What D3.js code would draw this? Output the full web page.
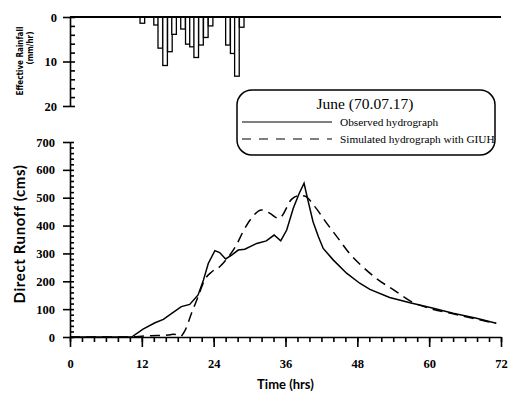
<!DOCTYPE html>
<meta charset="utf-8">
<style>
body { margin: 0; background: #fff; }
svg { display: block; }
.tk text { font-family: "Liberation Serif", serif; font-weight: bold; font-size: 12.5px; fill: #000; }
.tk line, .tk path { stroke: #000; stroke-width: 1.6; }
</style>
<body>
<script src="https://cdnjs.cloudflare.com/ajax/libs/d3/7.8.5/d3.min.js"></script>
<script>
// rainfall (hyetograph), hours and mm/hr
var rainT = [11.7, 14.0, 14.7, 15.5, 16.3, 17.0, 18.5, 19.3, 20.0, 20.7, 21.5, 22.3, 23.1, 26.0, 26.8, 27.5, 28.3];
var rainV = [1.4, 1.8, 7.0, 10.9, 7.8, 3.9, 2.7, 6.1, 6.7, 9.1, 6.3, 4.6, 2.0, 6.3, 8.2, 13.3, 2.3];
var rainW = 0.77;

// observed hydrograph
var obsT = [0, 10.3, 12.2, 14.2, 15.6, 17.0, 18.6, 20.0, 21.4, 22.3, 23.1, 24.2, 25.0, 26.0, 27.0, 28.1, 29.2, 31.2, 32.8, 34.1, 35.2, 36.2, 37.3, 38.3, 39.1, 39.8, 40.6, 41.5, 42.3, 44.0, 46.2, 48.4, 50.1, 53.4, 56.8, 60.7, 64.0, 67.9, 71.2];
var obsQ = [0, 0, 28, 51, 63, 85, 109, 117, 151, 205, 264, 310, 303, 280, 294, 312, 315, 336, 345, 366, 345, 384, 462, 516, 552, 486, 414, 360, 318, 276, 229, 193, 171, 142, 123, 103, 85, 67, 49];

// simulated hydrograph with GIUH
var simT = [0, 10, 12.5, 14.5, 16.4, 17.2, 17.9, 18.4, 19.2, 20.3, 21.4, 22.5, 23.7, 25.0, 26.4, 27.8, 28.9, 30.3, 32.0, 33.4, 34.8, 35.3, 37.0, 38.4, 39.2, 40.9, 42.9, 44.8, 46.7, 48.7, 51.2, 54.5, 56.8, 60.7, 64.0, 67.9, 71.2];
var simQ = [0, 0, 4, 5, 7, 10, 8, 2, 23, 85, 145, 205, 234, 252, 286, 330, 378, 426, 456, 444, 426, 432, 494, 508, 506, 468, 408, 354, 300, 256, 210, 163, 130, 99, 83, 64, 49];

var xTicks = [0, 12, 24, 36, 48, 60, 72];
var qTicks = [0, 100, 200, 300, 400, 500, 600, 700];
var rTicks = [0, 10, 20];

var W = 511, H = 395;
var svg = d3.select("body").append("svg").attr("width", W).attr("height", H);

var x = d3.scaleLinear().domain([0, 72]).range([70, 501]);
var y = d3.scaleLinear().domain([0, 700]).range([337, 142]);
var yr = d3.scaleLinear().domain([0, 20]).range([17, 106]);

// ---- top panel: rainfall ----
var rain = rainT.map(function(t, i) { return {t: t, v: rainV[i]}; });
svg.append("g").selectAll("rect")
  .data(rain)
  .enter().append("rect")
  .attr("x", function(d) { return x(d.t); })
  .attr("y", yr(0))
  .attr("width", x(rainW) - x(0))
  .attr("height", function(d) { return yr(d.v) - yr(0); })
  .attr("fill", "#fff")
  .attr("stroke", "#000")
  .attr("stroke-width", 1.3);

svg.append("line")
  .attr("x1", x(0)).attr("x2", x(72))
  .attr("y1", yr(0)).attr("y2", yr(0))
  .attr("stroke", "#000").attr("stroke-width", 2);

svg.append("g").attr("class", "tk")
  .attr("transform", "translate(" + x(0) + ",0)")
  .call(d3.axisLeft(yr).tickValues(rTicks).tickSize(7).tickSizeOuter(0).tickPadding(6))
  .call(function(g) { g.select(".domain").attr("stroke-width", 2.2); });
svg.append("g").attr("class", "tk")
  .attr("transform", "translate(" + x(0) + ",0)")
  .call(d3.axisRight(yr).tickValues(d3.range(0, 21, 2)).tickSize(5).tickFormat(""))
  .call(function(g) { g.select(".domain").remove(); });

svg.append("text")
  .attr("transform", "translate(23,61) rotate(-90)")
  .attr("text-anchor", "middle")
  .style("font-family", "'DejaVu Sans Condensed', 'DejaVu Sans', sans-serif")
  .style("font-weight", "bold")
  .style("font-size", "8px")
  .text("Effective Rainfall");
svg.append("text")
  .attr("transform", "translate(33,48) rotate(-90)")
  .attr("text-anchor", "middle")
  .style("font-family", "'DejaVu Sans Condensed', 'DejaVu Sans', sans-serif")
  .style("font-weight", "bold")
  .style("font-size", "8px")
  .text("(mm/hr)");

// ---- bottom panel: hydrographs ----
svg.append("g").attr("class", "tk")
  .attr("transform", "translate(" + x(0) + ",0)")
  .call(d3.axisLeft(y).tickValues(qTicks).tickSize(7).tickSizeOuter(0).tickPadding(8))
  .call(function(g) { g.select(".domain").attr("stroke-width", 2.2); });
svg.append("g").attr("class", "tk")
  .attr("transform", "translate(" + x(0) + ",0)")
  .call(d3.axisRight(y).tickValues(d3.range(0, 701, 20)).tickSize(4).tickFormat(""))
  .call(function(g) { g.select(".domain").remove(); });

svg.append("g").attr("class", "tk")
  .attr("transform", "translate(0," + y(0) + ")")
  .call(d3.axisBottom(x).tickValues(xTicks).tickSize(10).tickSizeOuter(0).tickPadding(12))
  .call(function(g) { g.select(".domain").attr("stroke-width", 2.6); });
svg.append("g").attr("class", "tk")
  .attr("transform", "translate(0," + y(0) + ")")
  .call(d3.axisBottom(x).tickValues(d3.range(0, 73, 2)).tickSize(5).tickFormat(""))
  .call(function(g) { g.select(".domain").remove(); });

var line = d3.line()
  .x(function(d) { return x(d[0]); })
  .y(function(d) { return y(d[1]); });

svg.append("path")
  .datum(obsT.map(function(t, i) { return [t, obsQ[i]]; }))
  .attr("d", line)
  .attr("fill", "none").attr("stroke", "#000").attr("stroke-width", 1.5);

svg.append("path")
  .datum(simT.map(function(t, i) { return [t, simQ[i]]; }))
  .attr("d", line.curve(d3.curveMonotoneX))
  .attr("fill", "none").attr("stroke", "#000").attr("stroke-width", 1.5)
  .attr("stroke-dasharray", "10,6");

svg.append("text")
  .attr("transform", "translate(25,234) rotate(-90)")
  .attr("text-anchor", "middle")
  .style("font-family", "Lato, sans-serif")
  .style("font-weight", "bold")
  .style("font-size", "15px")
  .style("letter-spacing", "0.6px")
  .text("Direct Runoff (cms)");

svg.append("text")
  .attr("x", x(36)).attr("y", 389)
  .attr("text-anchor", "middle")
  .style("font-family", "Lato, sans-serif")
  .style("font-weight", "bold")
  .style("font-size", "13px")
  .text("Time (hrs)");

// ---- legend ----
var lg = svg.append("g");
lg.append("rect")
  .attr("x", 237).attr("y", 90).attr("width", 258).attr("height", 65)
  .attr("rx", 15).attr("ry", 15)
  .attr("fill", "#fff").attr("stroke", "#000").attr("stroke-width", 1.5);
lg.append("text")
  .attr("x", 365).attr("y", 109)
  .attr("text-anchor", "middle")
  .style("font-family", "'Liberation Serif', serif")
  .style("font-size", "15.5px")
  .text("June (70.07.17)");
lg.append("line")
  .attr("x1", 242).attr("x2", 332).attr("y1", 122).attr("y2", 122)
  .attr("stroke", "#000").attr("stroke-width", 1.2);
lg.append("line")
  .attr("x1", 242).attr("x2", 332).attr("y1", 139).attr("y2", 139)
  .attr("stroke", "#000").attr("stroke-width", 1.2)
  .attr("stroke-dasharray", "9,8");
lg.append("text")
  .attr("x", 340).attr("y", 126)
  .style("font-family", "'Liberation Serif', serif")
  .style("font-size", "11.3px")
  .text("Observed hydrograph");
lg.append("text")
  .attr("x", 340).attr("y", 143)
  .style("font-family", "'Liberation Serif', serif")
  .style("font-size", "11.3px")
  .text("Simulated hydrograph with GIUH");
</script>
</body>
